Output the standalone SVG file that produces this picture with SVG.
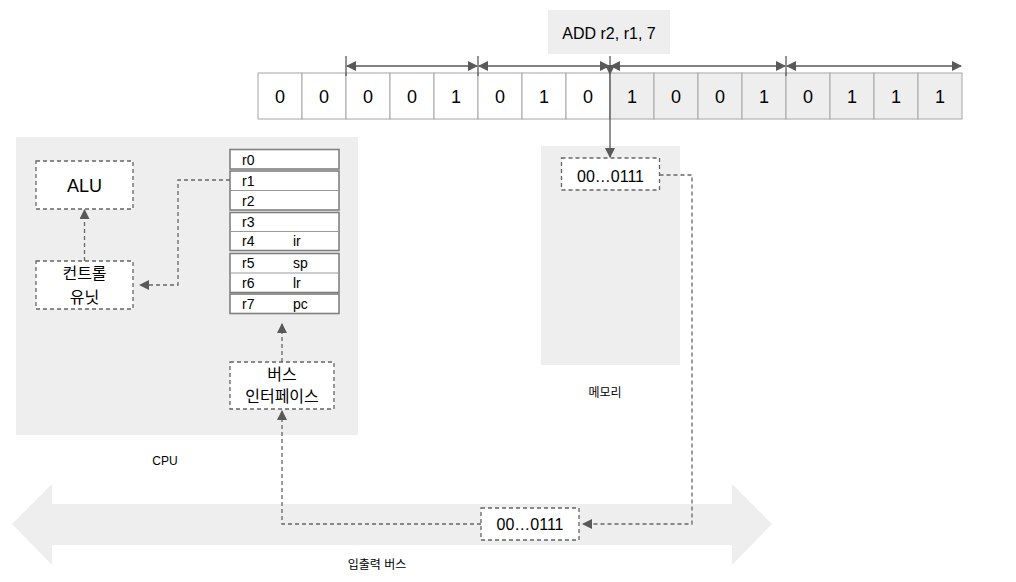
<svg xmlns="http://www.w3.org/2000/svg" width="1016" height="582" viewBox="0 0 1016 582">
<style>
text{font-family:"Liberation Sans","Noto Sans CJK KR",sans-serif;fill:#000}
.bit{font-size:18px;text-anchor:middle;dominant-baseline:central}
.cw{fill:#fff;stroke:#a6a6a6;stroke-width:1}
.cg{fill:#eeeeee;stroke:#a6a6a6;stroke-width:1}
.panel{fill:#eeeeee}
.dbox{fill:#fff;stroke:#666;stroke-width:1.3;stroke-dasharray:4,3}
.reg{fill:#fff;stroke:#808080;stroke-width:1.6}
.div{stroke:#999;stroke-width:1}
.rt{font-size:14px;dominant-baseline:central}
.dash{fill:none;stroke:#666;stroke-width:1.3;stroke-dasharray:4,3}
.dim{fill:none;stroke:#595959;stroke-width:1.3}
.lbl{font-size:12px;text-anchor:middle}
.mid{text-anchor:middle;dominant-baseline:central}
</style>
<defs>
<marker id="ah" viewBox="0 0 10 10" refX="9" refY="5" markerWidth="10" markerHeight="10" markerUnits="userSpaceOnUse" orient="auto-start-reverse">
<path d="M0,0 L10,5 L0,10 z" fill="#595959"/>
</marker>
</defs>

<g id="bus">
<polygon class="panel" points="12,524 52,484 52,504 732,504 732,484 772,524 732,565 732,545 52,545 52,565"/>
<text class="lbl" x="377" y="569">입출력 버스</text>
</g>

<g id="cpu">
<rect class="panel" x="16" y="137" width="342" height="298"/>
<text class="lbl" x="165" y="465">CPU</text>
</g>

<g id="memory">
<rect class="panel" x="541" y="146" width="139" height="219"/>
<text class="lbl" x="605" y="397">메모리</text>
</g>

<g id="instruction">
<rect class="panel" x="548" y="10" width="122" height="44"/>
<text class="mid" x="609" y="33" font-size="16">ADD r2, r1, 7</text>
</g>

<g id="bits">
<rect class="cw" x="258" y="73" width="44" height="46"/>
<rect class="cw" x="302" y="73" width="44" height="46"/>
<rect class="cw" x="346" y="73" width="44" height="46"/>
<rect class="cw" x="390" y="73" width="44" height="46"/>
<rect class="cw" x="434" y="73" width="44" height="46"/>
<rect class="cw" x="478" y="73" width="44" height="46"/>
<rect class="cw" x="522" y="73" width="44" height="46"/>
<rect class="cw" x="566" y="73" width="44" height="46"/>
<rect class="cg" x="610" y="73" width="44" height="46"/>
<rect class="cg" x="654" y="73" width="44" height="46"/>
<rect class="cg" x="698" y="73" width="44" height="46"/>
<rect class="cg" x="742" y="73" width="44" height="46"/>
<rect class="cg" x="786" y="73" width="44" height="46"/>
<rect class="cg" x="830" y="73" width="44" height="46"/>
<rect class="cg" x="874" y="73" width="44" height="46"/>
<rect class="cg" x="918" y="73" width="44" height="46"/>
<text class="bit" x="280" y="97">0</text>
<text class="bit" x="324" y="97">0</text>
<text class="bit" x="368" y="97">0</text>
<text class="bit" x="412" y="97">0</text>
<text class="bit" x="456" y="97">1</text>
<text class="bit" x="500" y="97">0</text>
<text class="bit" x="544" y="97">1</text>
<text class="bit" x="588" y="97">0</text>
<text class="bit" x="632" y="97">1</text>
<text class="bit" x="676" y="97">0</text>
<text class="bit" x="720" y="97">0</text>
<text class="bit" x="764" y="97">1</text>
<text class="bit" x="808" y="97">0</text>
<text class="bit" x="852" y="97">1</text>
<text class="bit" x="896" y="97">1</text>
<text class="bit" x="940" y="97">1</text>
</g>

<g id="alu">
<rect class="dbox" x="36" y="161" width="97" height="48"/>
<text class="mid" x="84.5" y="186" font-size="18">ALU</text>
</g>

<g id="control-unit">
<rect class="dbox" x="36" y="261" width="97" height="48"/>
<text class="mid" x="84.5" y="273" font-size="16">컨트롤</text>
<text class="mid" x="84.5" y="297" font-size="16">유닛</text>
</g>

<g id="registers">
<rect class="reg" x="230" y="149.5" width="109" height="19.5"/>
<rect class="reg" x="230" y="171" width="109" height="39"/>
<line class="div" x1="230" y1="190.5" x2="339" y2="190.5"/>
<rect class="reg" x="230" y="212.5" width="109" height="38"/>
<line class="div" x1="230" y1="231.5" x2="339" y2="231.5"/>
<rect class="reg" x="230" y="253.5" width="109" height="39"/>
<line class="div" x1="230" y1="273" x2="339" y2="273"/>
<rect class="reg" x="230" y="294" width="109" height="19.5"/>
<text class="rt" x="242" y="159.5">r0</text>
<text class="rt" x="242" y="181">r1</text>
<text class="rt" x="242" y="200.5">r2</text>
<text class="rt" x="242" y="222">r3</text>
<text class="rt" x="242" y="241">r4</text>
<text class="rt" x="293" y="241">ir</text>
<text class="rt" x="242" y="263">r5</text>
<text class="rt" x="293" y="263">sp</text>
<text class="rt" x="242" y="283">r6</text>
<text class="rt" x="293" y="283">lr</text>
<text class="rt" x="242" y="304">r7</text>
<text class="rt" x="293" y="304">pc</text>
</g>

<g id="bus-interface">
<rect class="dbox" x="230" y="362" width="104" height="47"/>
<text class="mid" x="282" y="374" font-size="16">버스</text>
<text class="mid" x="282" y="396" font-size="16">인터페이스</text>
</g>

<g id="mem-cell">
<rect class="dbox" x="561.5" y="158" width="98" height="32"/>
<text class="mid" x="610.5" y="176" font-size="16">00…0111</text>
</g>

<g id="bus-cell">
<rect class="dbox" x="481" y="508" width="98" height="32"/>
<text class="mid" x="530" y="524" font-size="16">00…0111</text>
</g>

<g id="connectors">
<line class="dim" x1="346" y1="56" x2="346" y2="76"/>
<line class="dim" x1="478" y1="56" x2="478" y2="76"/>
<line class="dim" x1="786" y1="56" x2="786" y2="76"/>
<line class="dim" x1="347" y1="66" x2="477" y2="66" marker-start="url(#ah)" marker-end="url(#ah)"/>
<line class="dim" x1="479" y1="66" x2="609" y2="66" marker-start="url(#ah)" marker-end="url(#ah)"/>
<line class="dim" x1="611" y1="66" x2="785" y2="66" marker-start="url(#ah)" marker-end="url(#ah)"/>
<line class="dim" x1="787" y1="66" x2="961" y2="66" marker-start="url(#ah)" marker-end="url(#ah)"/>
<line class="dim" x1="610" y1="56" x2="610" y2="74" marker-end="url(#ah)"/>
<line class="dim" x1="610" y1="74" x2="610" y2="157" marker-end="url(#ah)"/>
<path class="dash" d="M84.5,261 L84.5,210" marker-end="url(#ah)"/>
<path class="dash" d="M230,180 L178,180 L178,285 L140,285" marker-end="url(#ah)"/>
<path class="dash" d="M282,362 L282,324" marker-end="url(#ah)"/>
<path class="dash" d="M481,524 L282,524 L282,411" marker-end="url(#ah)"/>
<path class="dash" d="M659.5,175 L692,175 L692,524 L583,524" marker-end="url(#ah)"/>
</g>
</svg>
